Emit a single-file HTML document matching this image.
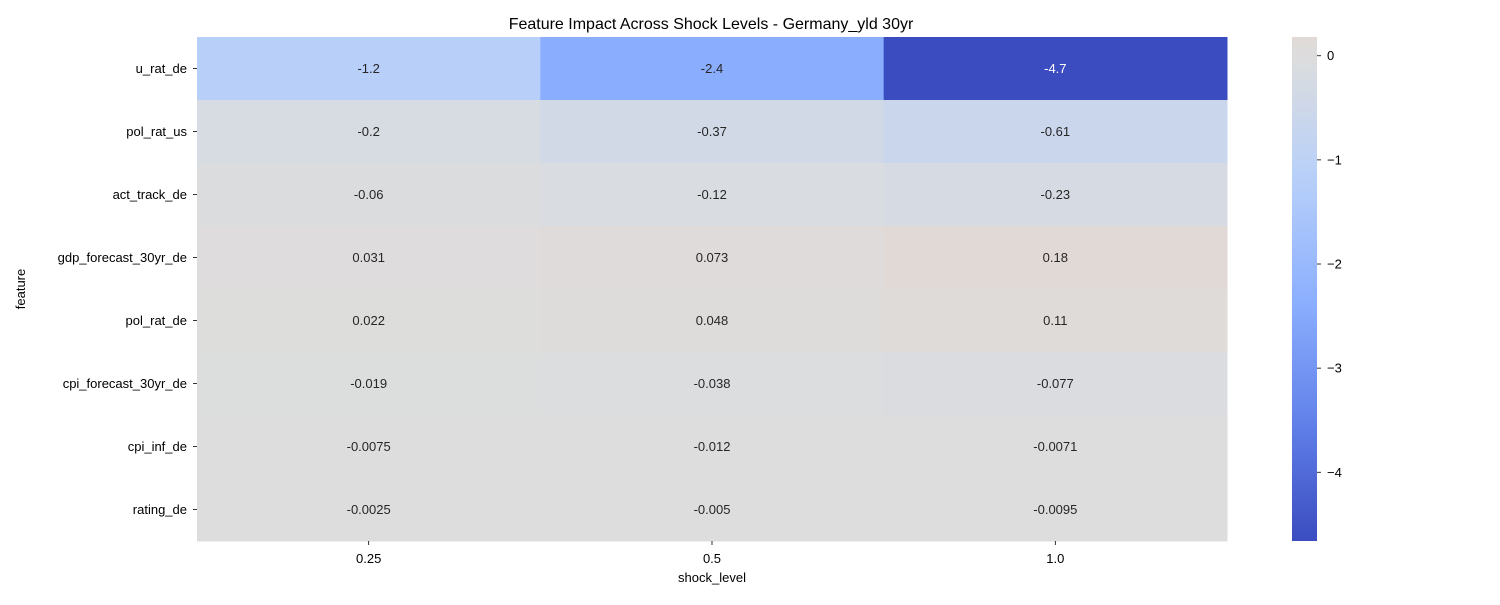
<!DOCTYPE html>
<html><head><meta charset="utf-8"><style>
body{margin:0;background:#fff;font-family:"Liberation Sans",sans-serif;}
svg text{font-family:"Liberation Sans",sans-serif;}
</style></head><body>
<svg id="chart" width="1500" height="600" xmlns="http://www.w3.org/2000/svg">
<defs><linearGradient id="cb" x1="0" y1="1" x2="0" y2="0"></linearGradient></defs>
<text x="711" y="29" font-size="16" text-anchor="middle" fill="#000">Feature Impact Across Shock Levels - Germany_yld 30yr</text>
<g id="cells"></g>
<g id="axes"></g>
<text x="712" y="582" font-size="13" text-anchor="middle">shock_level</text>
<text transform="translate(25,289) rotate(-90)" font-size="13" text-anchor="middle">feature</text>
<rect x="1292" y="37" width="25" height="504" fill="url(#cb)"/>
<g id="cbticks"></g>
</svg>
<script>
const features = ["u_rat_de","pol_rat_us","act_track_de","gdp_forecast_30yr_de","pol_rat_de","cpi_forecast_30yr_de","cpi_inf_de","rating_de"];
const shockLevels = ["0.25","0.5","1.0"];
const col025 = [-1.2,-0.2,-0.06,0.031,0.022,-0.019,-0.0075,-0.0025];
const col05 = [-2.4,-0.37,-0.12,0.073,0.048,-0.038,-0.012,-0.005];
const col10 = [-4.7,-0.61,-0.23,0.18,0.11,-0.077,-0.0071,-0.0095];
const colorbarTicks = [0,-1,-2,-3,-4];
const vmin = -4.66, vmax = 0.18;

const NS="http://www.w3.org/2000/svg";
const X0=197,X1=1227,Y0=37,Y1=541;
const cw=(X1-X0)/shockLevels.length, rh=(Y1-Y0)/features.length;
const stops=[[59,76,192],[98,130,234],[141,176,254],[184,208,249],[221,221,221],[245,196,173],[244,154,123],[222,96,77],[180,4,38]];
function cmap(t){t=Math.max(0,Math.min(1,t));const p=t*8,i=Math.min(7,Math.floor(p)),f=p-i;
 const a=stops[i],b=stops[i+1];return `rgb(${a.map((v,k)=>Math.round(v+(b[k]-v)*f)).join(',')})`;}
const vr=Math.max(vmax,-vmin);
function norm(v){return 0.5+v/(2*vr);}
function yVal(v){return Y0+(vmax-v)/(vmax-vmin)*(Y1-Y0);}
function mk(tag,attrs,parent){const e=document.createElementNS(NS,tag);for(const k in attrs)e.setAttribute(k,attrs[k]);parent.appendChild(e);return e;}
const cols=[col025,col05,col10];
const cells=document.getElementById('cells'), axes=document.getElementById('axes');
cols.forEach((col,ci)=>{col.forEach((v,ri)=>{
 const r=mk('rect',{x:X0+ci*cw,y:Y0+ri*rh,width:cw+0.5,height:rh+0.5,fill:cmap(norm(v))},cells);
 
 
 const t=mk('text',{x:X0+(ci+0.5)*cw,y:Y0+(ri+0.5)*rh+4.5,'font-size':13,'text-anchor':'middle',fill:norm(v)<0.15?'#fff':'#262626'},cells);
 t.textContent=String(v);
 
 
});});
features.forEach((f,ri)=>{const y=Y0+(ri+0.5)*rh;
 const l=mk('line',{x1:X0-4,x2:X0,y1:y,y2:y,stroke:'#000','stroke-width':0.8},axes);
 
 
 const t=mk('text',{x:X0-10,y:y+4.5,'font-size':13,'text-anchor':'end'},axes);t.textContent=f;
 
 
});
shockLevels.forEach((s,ci)=>{const x=X0+(ci+0.5)*cw;
 const l=mk('line',{x1:x,x2:x,y1:Y1,y2:Y1+4,stroke:'#000','stroke-width':0.8},axes);
 
 
 const t=mk('text',{x:x,y:Y1+22,'font-size':13,'text-anchor':'middle'},axes);t.textContent=s;
 
 
});
const g=document.getElementById('cb');
for(let i=0;i<=40;i++){const v=vmin+(vmax-vmin)*i/40;
 mk('stop',{offset:i/40,'stop-color':cmap(norm(v))},g);}
const cbt=document.getElementById('cbticks');
colorbarTicks.forEach(v=>{const y=yVal(v);
 const l=mk('line',{x1:1317,x2:1321,y1:y,y2:y,stroke:'#000','stroke-width':0.8},cbt);
 
 
 const t=mk('text',{x:1327,y:y+4.5,'font-size':13},cbt);t.textContent=v<0?'\u2212'+Math.abs(v):String(v);
 
 
});
</script>
</body></html>
